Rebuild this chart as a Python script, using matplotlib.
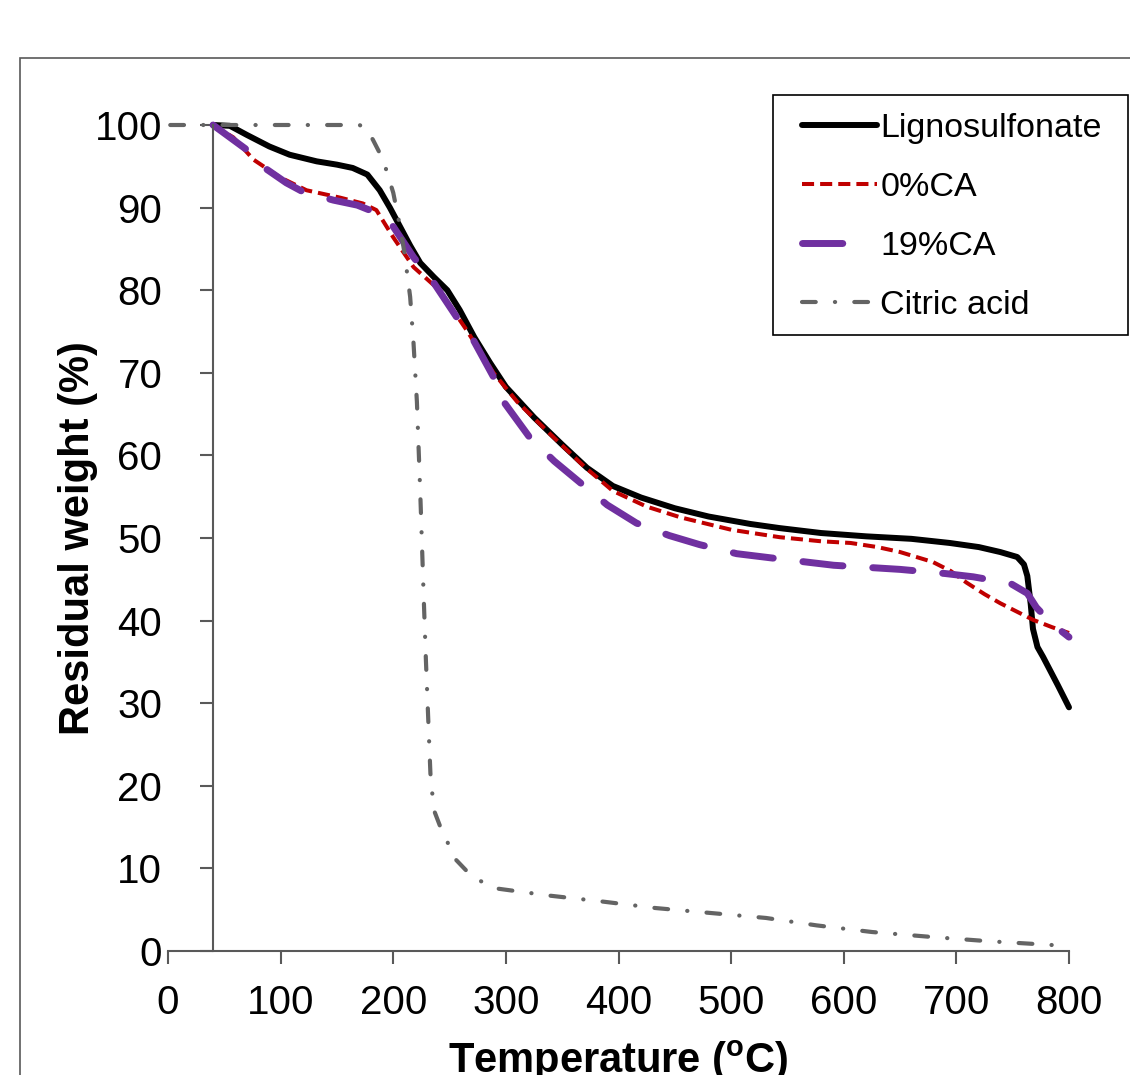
import matplotlib
matplotlib.use("Agg")
import matplotlib.pyplot as plt
from matplotlib.patches import Rectangle

plt.rcParams['font.family'] = ['Liberation Sans', 'DejaVu Sans']
plt.rcParams['mathtext.fontset'] = 'custom'
plt.rcParams['mathtext.rm'] = 'Liberation Sans'
plt.rcParams['mathtext.bf'] = 'Liberation Sans:bold'

# TGA curves
temp_ls = [40, 55, 70, 90, 108, 132, 150, 164, 177, 188, 197, 206, 215, 224, 236, 248, 259,
           272, 286, 300, 325, 350, 372, 395, 420, 450, 480, 517, 543, 580, 620, 660, 694,
           720, 739, 754, 760, 763, 766, 768, 772, 777, 790, 800]
wt_ls = [100, 99.9, 98.8, 97.4, 96.4, 95.6, 95.2, 94.8, 94.0, 92.1, 90.0, 87.7, 85.4, 83.3,
         81.6, 80.0, 77.6, 74.3, 71.2, 68.3, 64.6, 61.3, 58.5, 56.3, 54.9, 53.6, 52.6, 51.7,
         51.2, 50.6, 50.2, 49.9, 49.4, 48.9, 48.3, 47.7, 46.8, 45.4, 42.0, 39.0, 36.8, 35.6,
         32.2, 29.5]

temp_0ca = [40, 58, 76, 99, 123, 153, 173, 185, 200, 218, 241, 265, 289, 310, 340, 370, 395,
            425, 455, 500, 543, 580, 606, 630, 650, 679, 695, 709, 725, 739, 768, 785, 800]
wt_0ca = [100, 98.5, 95.8, 93.7, 92.1, 91.2, 90.5, 89.7, 86.4, 82.8, 80.0, 75.2, 70.0, 66.5,
          62.5, 58.6, 55.7, 53.8, 52.5, 51.0, 50.1, 49.6, 49.4, 48.9, 48.3, 47.1, 46.0, 44.6,
          43.2, 42.1, 40.1, 39.2, 38.5]

temp_19ca = [40, 58, 70, 88, 105, 120, 147, 168, 179, 190, 200, 218, 236, 256, 271, 289, 298,
             321, 343, 366, 390, 416, 445, 472, 505, 535, 591, 650, 690, 715, 748, 763, 771,
             785, 800]
wt_19ca = [100, 98.2, 97.0, 94.6, 93.0, 91.9, 90.9, 90.3, 89.7, 88.8, 87.7, 84.0, 80.9, 76.8,
           74.0, 69.5, 66.5, 62.2, 59.3, 56.7, 54.0, 51.8, 50.3, 49.2, 48.1, 47.6, 46.7, 46.2,
           45.7, 45.3, 44.5, 43.3, 41.6, 39.6, 38.0]

temp_cit = [2, 100, 170, 176, 182, 191, 200, 206, 210, 215, 218, 221, 224, 227, 229, 231, 233,
            236, 243, 256, 270, 290, 339, 385, 433, 482, 531, 576, 625, 678, 727, 800]
wt_cit = [100, 100, 100, 99.6, 98.2, 95.8, 91.8, 87.7, 84.5, 79.2, 73.6, 66.5, 55.4, 43.0,
          35.2, 28.3, 21.5, 17.1, 14.6, 11.0, 9.0, 7.6, 6.7, 6.0, 5.2, 4.6, 4.0, 3.1, 2.3,
          1.7, 1.2, 0.6]

labels = ['Lignosulfonate', '0%CA', '19%CA', 'Citric acid']

fig = plt.figure(figsize=(11.3, 10.75), dpi=100)
ax = fig.add_axes([168 / 1130, 1 - 951 / 1075, (1069 - 168) / 1130, (951 - 125) / 1075])

ax.plot(temp_ls, wt_ls, color='black', lw=4.3, solid_capstyle='round', clip_on=False,
        label=labels[0])
ax.plot(temp_0ca, wt_0ca, color='#C00000', lw=2.9, linestyle=(0, (3.0, 1.5)),
        clip_on=False, label=labels[1])
ax.plot(temp_19ca, wt_19ca, color='#7030A0', lw=5, linestyle=(0, (5.8, 4.3)),
        dash_capstyle='round', clip_on=False, label=labels[2])
ax.plot(temp_cit, wt_cit, color='#646464', lw=3, linestyle=(0, (3.3, 4.6, 0.05, 4.6)),
        dash_capstyle='round', clip_on=False, label=labels[3])

ax.set_xlim(0, 800)
ax.set_ylim(0, 100)
ax.set_xticks(range(0, 801, 100))
ax.set_yticks(range(0, 101, 10))

axis_col = '#595959'
for s in ['top', 'right']:
    ax.spines[s].set_visible(False)
ax.spines['left'].set_position(('data', 40))
for s in ['left', 'bottom']:
    ax.spines[s].set_color(axis_col)
    ax.spines[s].set_linewidth(1.5)
ax.tick_params(axis='both', colors=axis_col, labelcolor='black', width=1.5, length=9.5,
               labelsize=29)
ax.tick_params(axis='y', pad=27)
ax.tick_params(axis='x', pad=14)

ax.set_xlabel(r'Temperature ($\mathbf{^o}$C)', fontsize=30, fontweight='bold', labelpad=12)
ax.set_ylabel('Residual weight (%)', fontsize=30, fontweight='bold')
ax.yaxis.set_label_coords(-0.078, 0.5)

# legend without its own frame, box drawn separately
leg = fig.legend(loc='upper left', bbox_to_anchor=(802 / 1130, 1 - 113 / 1075),
                 fontsize=24.5, frameon=False, handlelength=2.2, handletextpad=0.1,
                 labelspacing=0.82, borderpad=0, borderaxespad=0)
# the legend sample of 19%CA shows a single dash
leg.get_lines()[2].set_linestyle((0, (5.8, 8)))
fig.patches.append(Rectangle((773 / 1130, 1 - 335 / 1075), (1128 - 773) / 1130, 240 / 1075,
                             transform=fig.transFigure, fill=False,
                             edgecolor='black', lw=1.2, zorder=5))

fig.patches.append(Rectangle((20 / 1130, -0.2), 1.2, 1 - 58 / 1075 + 0.2,
                             transform=fig.transFigure, fill=False,
                             edgecolor=axis_col, lw=1.2))

fig.savefig('out.png', dpi=100)
